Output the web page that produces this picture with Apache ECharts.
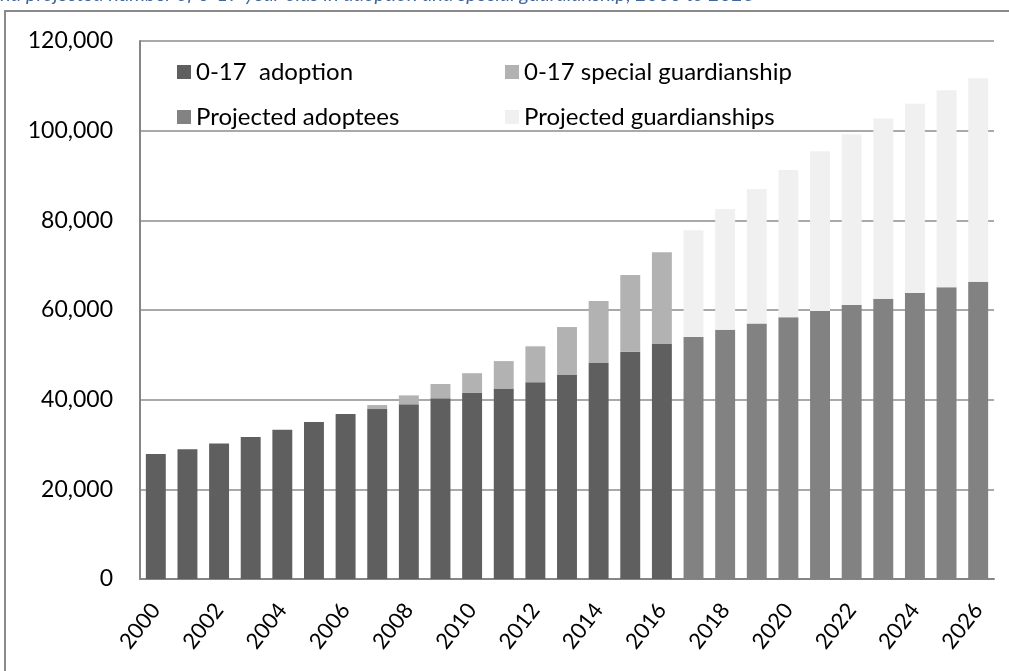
<!DOCTYPE html>
<html>
<head>
<meta charset="utf-8">
<script src="https://cdn.jsdelivr.net/npm/echarts@6/dist/echarts.min.js"></script>
<style>html,body{margin:0;padding:0;background:#fff;}#c{width:1009px;height:671px;}</style>
</head>
<body>
<div id="c"></div>
<script>
const years = ['2000','2001','2002','2003','2004','2005','2006','2007','2008','2009','2010','2011','2012','2013','2014','2015','2016','2017','2018','2019','2020','2021','2022','2023','2024','2025','2026'];
const adoption = [27900,28950,30200,31700,33300,35000,36800,37900,38950,40300,41500,42500,43900,45500,48200,50700,52400,null,null,null,null,null,null,null,null,null,null];
const specialGuardianship = [null,null,null,null,null,null,null,900,2000,3200,4400,6100,8000,10700,13800,17100,20500,null,null,null,null,null,null,null,null,null,null];
const projectedAdoptees = [null,null,null,null,null,null,null,null,null,null,null,null,null,null,null,null,null,54000,55600,57000,58400,59800,61100,62500,63800,65100,66300];
const projectedGuardianships = [null,null,null,null,null,null,null,null,null,null,null,null,null,null,null,null,null,23800,26900,30000,32800,35600,38100,40200,42200,43900,45400];
const seriesNames = ['0-17  adoption','Projected adoptees','0-17 special guardianship','Projected guardianships'];
const yTicks = {min:0, max:120000, interval:20000};
const titleText = 'and projected number of 0-17 year olds in adoption and special guardianship, 2000 to 2026';

const chart = echarts.init(document.getElementById('c'), null, {renderer:'canvas'});
const font = 'Lato';
const colors = ['#5f5f5f','#828282','#b2b2b2','#f0f0f0'];
const dataSets = [adoption, projectedAdoptees, specialGuardianship, projectedGuardianships];
const legendText = {fontFamily:font, fontSize:24, color:'#000', lineHeight:28};
chart.setOption({
  animation:false,
  backgroundColor:'#fff',
  graphic:[
    {type:'rect', shape:{x:5, y:11, width:1200, height:900}, style:{fill:'none', stroke:'#8a8a8a', lineWidth:2}, silent:true},
    {type:'text', left:-10, top:-15, style:{text:titleText, font:'italic 20px Lato', fill:'#44679a'}, silent:true}
  ],
  grid:{left:140, right:15, top:41, bottom:92, containLabel:false},
  legend:[
    {orient:'vertical', left:172, top:53, itemWidth:14, itemHeight:14, itemGap:17, icon:'rect',
     data:[seriesNames[0], seriesNames[1]], selectedMode:false, textStyle:legendText},
    {orient:'vertical', left:500, top:53, itemWidth:14, itemHeight:14, itemGap:17, icon:'rect',
     data:[seriesNames[2], seriesNames[3]], selectedMode:false, textStyle:legendText}
  ],
  xAxis:{
    type:'category', data:years,
    axisLine:{lineStyle:{color:'#868686', width:2}},
    axisTick:{show:false},
    axisLabel:{interval:1, rotate:52, margin:27, fontFamily:font, fontSize:22, color:'#000'}
  },
  yAxis:{
    type:'value', min:yTicks.min, max:yTicks.max, interval:yTicks.interval,
    axisLine:{show:true, lineStyle:{color:'#868686', width:2}},
    axisTick:{show:false},
    splitLine:{lineStyle:{color:'#8c8c8c', width:1.5}},
    axisLabel:{margin:27, fontFamily:font, fontSize:23, color:'#000',
      formatter:function(v){return v.toLocaleString('en-US');}}
  },
  series: seriesNames.map(function(n,i){
    return {name:n, type:'bar', stack:'total', data:dataSets[i], barCategoryGap:'37%',
      itemStyle:{color:colors[i]}};
  })
});
</script>
</body>
</html>
